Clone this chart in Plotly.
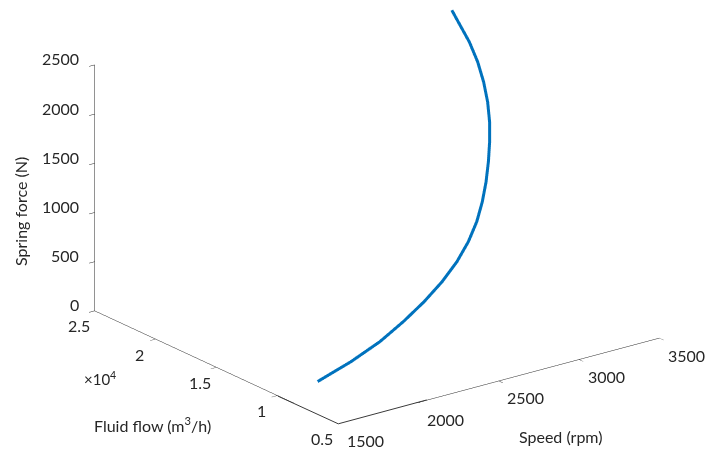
import plotly.graph_objects as go

speed = [1740, 1955, 2145, 2307, 2457, 2595, 2718, 2825, 2918, 2998, 3072, 3142, 3210, 3275,
         3333, 3383, 3426, 3459, 3480, 3497]
flow = [9860, 9940, 10085, 10295, 10570, 10910, 11315, 11785, 12320, 12920, 13585, 14315,
        15110, 15970, 16895, 17885, 18940, 20060, 21245, 21995]
force = [46, 151, 262, 383, 504, 628, 754, 884, 1016, 1149, 1282, 1413, 1541, 1666, 1791,
         1916, 2040, 2164, 2290, 2358]

speed_ticks = [1500, 2000, 2500, 3000, 3500]
flow_ticks = [5000, 10000, 15000, 20000, 25000]
flow_ticktext = ["0.5", "1", "1.5", "2", "2.5"]
force_ticks = [0, 500, 1000, 1500, 2000, 2500]

FONT = "Lato"
TXT = "#262626"
S = 2.0

fig = go.Figure(go.Scatter3d(x=speed, y=flow, z=force, mode="lines",
                             line=dict(color="#0072BD", width=6)))

ax = dict(showgrid=False, showbackground=False, showline=True, linecolor="#262626",
          linewidth=1, zeroline=False, ticks="outside", tickcolor="#262626", ticklen=7,
          showticklabels=False, showspikes=False, title=dict(text=""))

tf = dict(family=FONT, size=16, color=TXT)
ann = []
for v in speed_ticks:
    ann.append(dict(x=v, y=flow_ticks[0], z=0, text=str(v), showarrow=False,
                    xshift=27, yshift=-17, font=tf))
for v, t in zip(flow_ticks, flow_ticktext):
    ann.append(dict(x=speed_ticks[0], y=v, z=0, text=t, showarrow=False,
                    xshift=-16, yshift=-15, font=tf))
for v in force_ticks:
    ann.append(dict(x=speed_ticks[0], y=flow_ticks[-1], z=v, text=str(v), showarrow=False,
                    xanchor="right", xshift=-14, yshift=6, font=tf))
# axis segments at the near corner (the WebGL near plane clips them)
for axx, ayy in [(-61, -28), (89, -24)]:
    ann.append(dict(x=speed_ticks[0], y=flow_ticks[0], z=0, text="", showarrow=True,
                    arrowhead=0, arrowwidth=1, arrowcolor="#3a3a3a", ax=axx, ay=ayy,
                    standoff=0, startstandoff=0, borderpad=0))

W, H, L, R, T, B = 708, 452, 46, 0, 0, 49
def px(x, y):
    return (x - L) / (W - L - R), 1 - (y - T) / (H - T - B)

labels = [
    (20, 212, "Spring force (N)", -90, 16),
    (152, 424, "Fluid flow (m<sup>3</sup>/h)", 0, 16),
    (561, 436, "Speed (rpm)", 0, 16),
    (100, 378, "×10<sup>4</sup>", 0, 15),
]
ann2 = []
for x, y, t, ang, fs in labels:
    xp, yp = px(x, y)
    ann2.append(dict(x=xp, y=yp, xref="paper", yref="paper", text=t, textangle=ang,
                     xanchor="center", yanchor="middle", showarrow=False,
                     font=dict(family=FONT, size=fs, color=TXT)))

fig.update_layout(
    width=W, height=H, paper_bgcolor="white",
    margin=dict(l=L, r=R, t=T, b=B),
    font=dict(family=FONT, size=16, color=TXT),
    scene=dict(
        xaxis=dict(ax, range=[1500, 3500], tickvals=speed_ticks),
        yaxis=dict(ax, range=[5000, 25000], tickvals=flow_ticks),
        zaxis=dict(ax, range=[0, 2500], tickvals=force_ticks),
        aspectmode="manual", aspectratio=dict(x=S, y=S, z=0.652 * S),
        camera=dict(eye=dict(x=-0.566, y=-0.746, z=0.352), up=dict(x=0, y=0, z=1),
                    center=dict(x=0, y=0, z=0), projection=dict(type="orthographic")),
        annotations=ann,
    ),
    annotations=ann2,
)
fig.write_html("out.html")
